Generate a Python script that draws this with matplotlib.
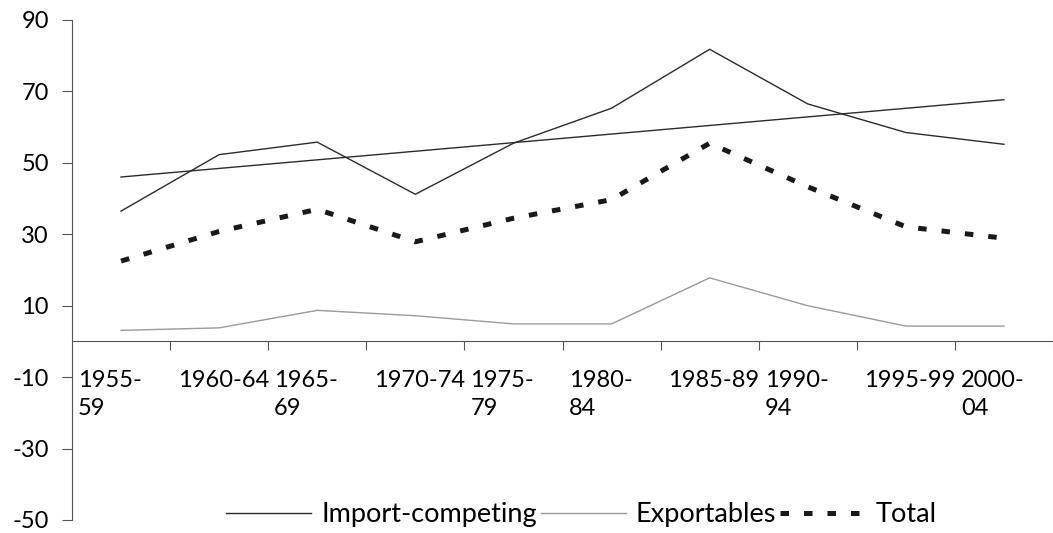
import numpy as np
import matplotlib
matplotlib.use("Agg")
import matplotlib.pyplot as plt

# periods (wrapped as in the original axis)
periods = ["1955-\n59", "1960-64", "1965-\n69", "1970-74", "1975-\n79",
           "1980-\n84", "1985-89", "1990-\n94", "1995-99", "2000-\n04"]

import_competing = [36.5, 52.3, 55.8, 41.2, 55.5, 65.3, 81.8, 66.5, 58.5, 55.2]
exportables = [3.1, 3.8, 8.7, 7.2, 4.9, 4.9, 17.8, 10.0, 4.3, 4.3]
total = [22.5, 30.8, 37.0, 27.9, 34.5, 39.7, 55.5, 43.3, 32.1, 28.9]

plt.rcParams['font.family'] = ['Lato', 'DejaVu Sans']
plt.rcParams['axes.unicode_minus'] = False

fig = plt.figure(figsize=(10.53, 5.33), dpi=100)
ax = fig.add_axes([72 / 1053, 13 / 533, 1 - 72 / 1053, 500 / 533])

x = np.arange(len(periods))

# linear trend of the import-competing series
slope, intercept = np.polyfit(x, import_competing, 1)
trend = slope * x + intercept

ax.plot(x, import_competing, color="#2b2b2b", lw=1.0, label="Import-competing")
ax.plot(x, trend, color="#2b2b2b", lw=1.0)
ax.plot(x, exportables, color="#9a9a9a", lw=1.0, label="Exportables")
ax.plot(x, total, color="#1a1a1a", lw=3.6, dashes=(1.7, 3.0), label="Total")

ax.set_ylim(-50, 90)
ax.set_yticks([-50, -30, -10, 10, 30, 50, 70, 90])
ax.set_xlim(-0.5, -0.5 + (1053 - 72) / 98.7)

# x axis crossing at zero, ticks between categories
ax.spines['bottom'].set_position(('data', 0))
ax.spines['top'].set_visible(False)
ax.spines['right'].set_visible(False)
ax.spines['left'].set_color("#555555")
ax.spines['bottom'].set_color("#555555")

ax.set_xticks(np.arange(0.5, len(periods) + 0.5, 1.0))
ax.set_xticklabels([])
ax.tick_params(axis='x', direction='out', length=6.5, color="#555555")
ax.tick_params(axis='y', direction='out', length=7.2, color="#555555",
               labelsize=17, pad=9.4)

for i, lab in enumerate(periods):
    dx = -8 if "\n" in lab else 3
    ax.annotate(lab, xy=(i, -7.9), xytext=(dx, 0), textcoords='offset points',
                ha='center', va='top', fontsize=17,
                multialignment='left', linespacing=1.44)

ax.legend(loc='center', bbox_to_anchor=(0.552, 0.034), bbox_transform=fig.transFigure,
          ncol=3, frameon=False, fontsize=19.5, handlelength=3.14,
          handletextpad=0.37, columnspacing=0.15, borderaxespad=0)

fig.savefig("out.png", dpi=100)
